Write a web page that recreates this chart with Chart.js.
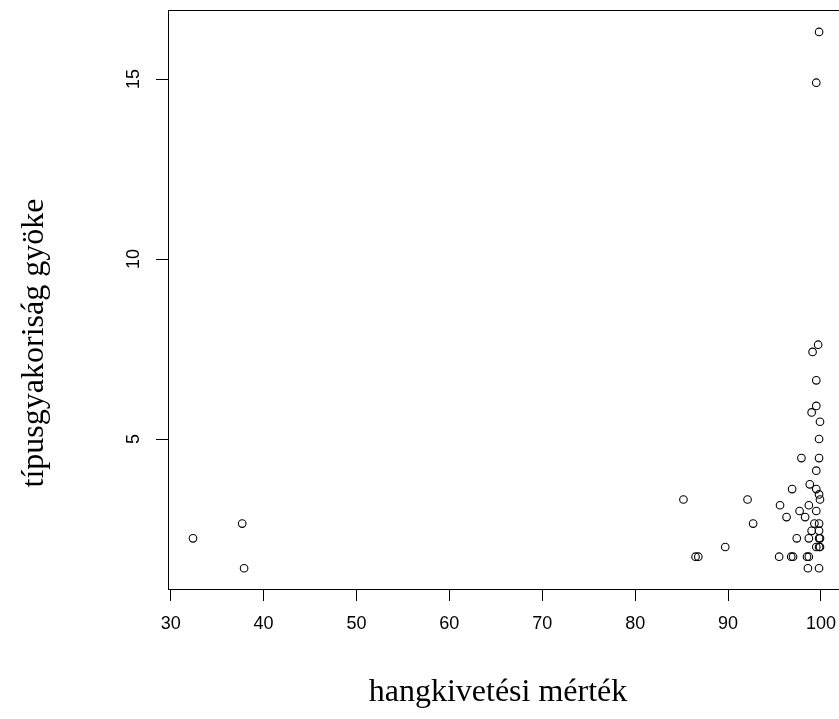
<!DOCTYPE html>
<html>
<head>
<meta charset="utf-8">
<script src="https://cdn.jsdelivr.net/npm/chart.js@4"></script>
<style>
  html, body { margin: 0; padding: 0; background: #fff; overflow: hidden; }
  #wrap { width: 860px; height: 719px; position: relative; }
</style>
</head>
<body>
<div id="wrap"><canvas id="c"></canvas></div>
<script>
// hangkivetési mérték (x) and típusgyakoriság gyöke (y)
const xValues = [32.4, 37.7, 37.9, 85.2, 86.5, 86.8, 89.7, 92.1, 92.7, 95.5,
                 95.6, 96.3, 96.8, 97.0, 96.9, 97.4, 97.7, 97.9, 98.3, 98.5,
                 98.7, 98.6, 98.7, 98.7, 98.8, 99.0, 99.0, 99.1, 99.3, 99.5,
                 99.5, 99.5, 99.5, 99.5, 99.5, 99.5, 99.7, 99.8, 99.8, 99.8,
                 99.8, 99.8, 99.8, 99.8, 99.8, 99.8, 99.9, 99.9, 99.9, 99.9];
const yValues = [2.24, 2.65, 1.41, 3.32, 1.73, 1.73, 2.00, 3.32, 2.65, 1.73,
                 3.16, 2.83, 1.73, 1.73, 3.61, 2.24, 3.00, 4.47, 2.83, 1.73,
                 1.73, 1.41, 2.24, 3.16, 3.74, 2.45, 5.74, 7.42, 2.65, 2.00,
                 3.00, 3.61, 4.12, 5.92, 6.63, 14.90, 7.62, 1.41, 2.00, 2.24,
                 2.45, 2.65, 3.46, 4.47, 5.00, 16.31, 3.32, 5.48, 2.24, 2.00];
const xTicks = [30, 40, 50, 60, 70, 80, 90, 100];
const yTicks = [5, 10, 15];
const xTitle = 'hangkivetési mérték';
const yTitle = 'típusgyakoriság gyöke';

const points = xValues.map((x, i) => ({ x: x, y: yValues[i] }));

const titleFontCss = '32px "Liberation Serif", "Times New Roman", serif';

const boxPlugin = {
  id: 'box',
  afterDraw(chart) {
    const { ctx, chartArea: a } = chart;
    ctx.save();
    ctx.strokeStyle = '#000';
    ctx.lineWidth = 1;
    ctx.strokeRect(Math.round(a.left) + 0.5, Math.round(a.top) + 0.5,
                   Math.round(a.right - a.left), Math.round(a.bottom - a.top));
    // axis titles
    ctx.fillStyle = '#000';
    ctx.font = titleFontCss;
    ctx.textAlign = 'center';
    ctx.textBaseline = 'middle';
    ctx.fillText(xTitle, 498, 693);
    ctx.translate(35, 343);
    ctx.rotate(-Math.PI / 2);
    ctx.fillText(yTitle, 0, 0);
    ctx.restore();
  }
};

const tickFont = { family: '"Liberation Sans", Arial, sans-serif', size: 18 };

new Chart(document.getElementById('c'), {
  type: 'scatter',
  data: {
    datasets: [{
      data: points,
      pointStyle: 'circle',
      pointRadius: 3.8,
      pointHoverRadius: 3.8,
      pointBorderWidth: 1.1,
      borderColor: '#000',
      backgroundColor: 'rgba(0,0,0,0)'
    }]
  },
  options: {
    responsive: true,
    maintainAspectRatio: false,
    animation: false,
    events: [],
    layout: { padding: { top: 10, left: 0, right: 14, bottom: 0 } },
    plugins: { legend: { display: false }, tooltip: { enabled: false } },
    scales: {
      x: {
        type: 'linear',
        min: 29.71,
        max: 102.7,
        afterBuildTicks: s => { s.ticks = xTicks.map(v => ({ value: v })); },
        afterFit: s => { s.height = 130; s.paddingLeft = 0; s.paddingRight = 0; },
        grid: { display: true, drawOnChartArea: false, drawTicks: true, tickLength: 12, color: '#000', lineWidth: 1 },
        border: { display: true, color: '#000', width: 1 },
        ticks: { color: '#000', font: tickFont, padding: 12, maxRotation: 0, autoSkip: false },
        title: { display: false }
      },
      y: {
        type: 'linear',
        min: 0.833,
        max: 16.92,
        afterBuildTicks: s => { s.ticks = yTicks.map(v => ({ value: v })); },
        afterFit: s => { s.width = 168; s.paddingTop = 0; s.paddingBottom = 0; },
        grid: { display: true, drawOnChartArea: false, drawTicks: true, tickLength: 12, color: '#000', lineWidth: 1 },
        border: { display: true, color: '#000', width: 1 },
        ticks: { color: '#000', font: tickFont, padding: 12, minRotation: 90, maxRotation: 90, crossAlign: 'center', autoSkip: false },
        title: { display: false }
      }
    }
  },
  plugins: [boxPlugin]
});
</script>
</body>
</html>
